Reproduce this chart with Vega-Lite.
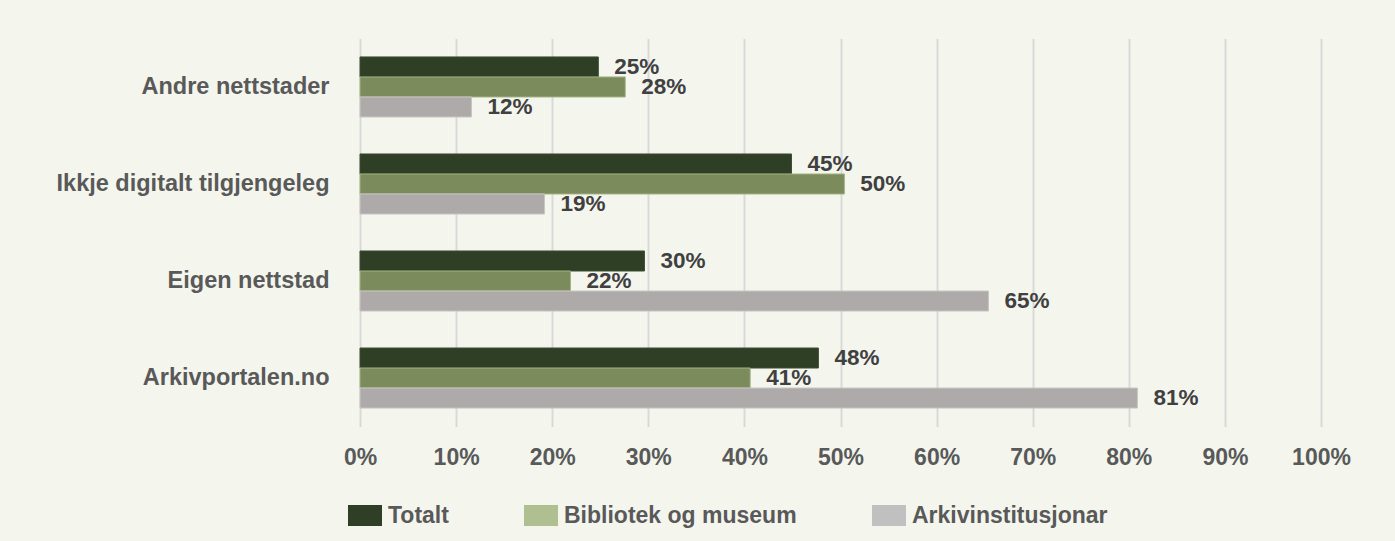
{
  "$schema": "https://vega.github.io/schema/vega-lite/v6.json",
  "width": 961,
  "height": 388,
  "autosize": {"type": "none"},
  "padding": {"left": 360, "top": 38.5, "right": 74, "bottom": 114.5},
  "background": "#f4f6ee",
  "config": {
    "view": {"stroke": null},
    "font": "Liberation Sans"
  },
  "data": {
    "values": [
      {"kategori": "Andre nettstader", "gruppe": "Totalt", "del": 0.248},
      {"kategori": "Andre nettstader", "gruppe": "Bibliotek og museum", "del": 0.276},
      {"kategori": "Andre nettstader", "gruppe": "Arkivinstitusjonar", "del": 0.116},
      {"kategori": "Ikkje digitalt tilgjengeleg", "gruppe": "Totalt", "del": 0.449},
      {"kategori": "Ikkje digitalt tilgjengeleg", "gruppe": "Bibliotek og museum", "del": 0.504},
      {"kategori": "Ikkje digitalt tilgjengeleg", "gruppe": "Arkivinstitusjonar", "del": 0.192},
      {"kategori": "Eigen nettstad", "gruppe": "Totalt", "del": 0.296},
      {"kategori": "Eigen nettstad", "gruppe": "Bibliotek og museum", "del": 0.219},
      {"kategori": "Eigen nettstad", "gruppe": "Arkivinstitusjonar", "del": 0.654},
      {"kategori": "Arkivportalen.no", "gruppe": "Totalt", "del": 0.477},
      {"kategori": "Arkivportalen.no", "gruppe": "Bibliotek og museum", "del": 0.406},
      {"kategori": "Arkivportalen.no", "gruppe": "Arkivinstitusjonar", "del": 0.809}
    ]
  },
  "encoding": {
    "y": {
      "field": "kategori",
      "type": "nominal",
      "sort": ["Andre nettstader", "Ikkje digitalt tilgjengeleg", "Eigen nettstad", "Arkivportalen.no"],
      "scale": {"paddingInner": 0.381, "paddingOuter": 0.19},
      "axis": {
        "title": null,
        "domain": false,
        "ticks": false,
        "tickSize": 0,
        "labelPadding": 31,
        "labelLimit": 400,
        "labelFontSize": 23.5,
        "labelFontWeight": "bold",
        "labelColor": "#595959",
        "labelFont": "Liberation Sans"
      }
    },
    "yOffset": {
      "field": "gruppe",
      "type": "nominal",
      "sort": ["Totalt", "Bibliotek og museum", "Arkivinstitusjonar"],
      "scale": {"paddingInner": 0, "paddingOuter": 0}
    },
    "x": {
      "field": "del",
      "type": "quantitative",
      "scale": {"domain": [0, 1], "nice": false, "zero": true},
      "axis": {
        "title": null,
        "format": ".0%",
        "values": [0, 0.1, 0.2, 0.3, 0.4, 0.5, 0.6, 0.7, 0.8, 0.9, 1],
        "domain": false,
        "ticks": false,
        "tickSize": 0,
        "grid": true,
        "gridColor": "#d9d9d9",
        "gridWidth": 2,
        "labelFlush": false,
        "labelPadding": 20,
        "labelFontSize": 23,
        "labelFontWeight": "bold",
        "labelColor": "#595959",
        "labelFont": "Liberation Sans"
      }
    }
  },
  "layer": [
    {
      "mark": {"type": "bar", "strokeWidth": 1},
      "encoding": {
        "color": {
          "field": "gruppe",
          "type": "nominal",
          "scale": {
            "domain": ["Totalt", "Bibliotek og museum", "Arkivinstitusjonar"],
            "range": ["#2f3f26", "#7b8b5b", "#aeaaa9"]
          },
          "legend": null
        },
        "stroke": {
          "field": "gruppe",
          "type": "nominal",
          "scale": {
            "domain": ["Totalt", "Bibliotek og museum", "Arkivinstitusjonar"],
            "range": ["#3e4e35", "#a3b283", "#c8c5c3"]
          },
          "legend": null
        }
      }
    },
    {
      "mark": {
        "type": "text",
        "align": "left",
        "baseline": "middle",
        "dx": 16,
        "fontSize": 22.5,
        "fontWeight": "bold",
        "font": "Liberation Sans",
        "color": "#404040"
      },
      "encoding": {
        "text": {"field": "del", "type": "quantitative", "format": ".0%"}
      }
    },
    {
      "mark": {"type": "bar", "opacity": 0},
      "encoding": {
        "color": {
          "field": "gruppe",
          "type": "nominal",
          "scale": {
            "domain": ["Totalt", "Bibliotek og museum", "Arkivinstitusjonar"],
            "range": ["#2e3f25", "#b0bf8f", "#c0c0c0"]
          },
          "legend": {
            "title": null,
            "orient": "none",
            "direction": "horizontal",
            "legendX": -12,
            "legendY": 460,
            "padding": 0,
            "symbolType": "M-1,-0.62H1V0.62H-1Z",
            "symbolSize": 1156,
            "symbolStrokeWidth": 0,
            "symbolOpacity": 1,
            "labelOffset": 6,
            "columnPadding": 75,
            "labelFontSize": 23,
            "labelFontWeight": "bold",
            "labelColor": "#595959",
            "labelFont": "Liberation Sans",
            "labelLimit": 400
          }
        }
      }
    }
  ],
  "resolve": {"scale": {"color": "independent"}}
}
